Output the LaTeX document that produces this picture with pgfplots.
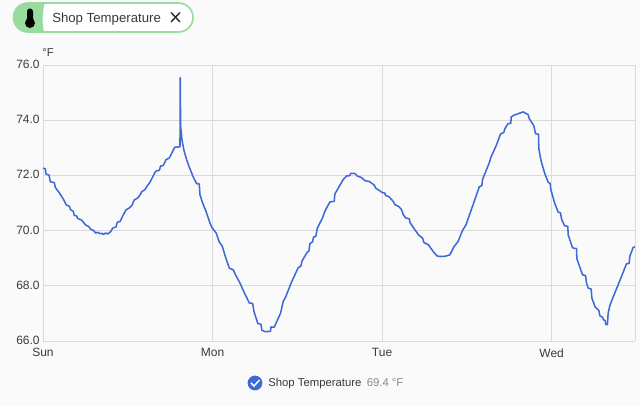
\documentclass[border=0pt]{standalone}
\usepackage{fontspec}
\setmainfont{Liberation Sans}
\usepackage{pgfplots}
\pgfplotsset{compat=1.18}
\definecolor{bgc}{HTML}{FAFAFA}
\definecolor{gridc}{HTML}{DADADA}
\definecolor{linec}{HTML}{4169D6}
\definecolor{chipg}{HTML}{97DB9F}
\definecolor{txt}{HTML}{3A3A3A}
\definecolor{gry}{HTML}{8A8A8A}
\begin{document}
\begin{tikzpicture}[x=0.75pt,y=0.75pt]
\fill[bgc] (0,0) rectangle (640,406);
\begin{axis}[
  at={(32.25pt,48.75pt)}, anchor=south west,
  scale only axis, width=444pt, height=207pt,
  xmin=0, xmax=83.8, ymin=66, ymax=76,
  xtick={0,24,48,72}, xticklabels={Sun,Mon,Tue,Wed},
  ytick={66,68,70,72,74,76},
  yticklabel style={/pgf/number format/fixed,/pgf/number format/fixed zerofill,/pgf/number format/precision=1,/pgf/number format/assume math mode=true},
  tick label style={font=\fontsize{9}{11}\selectfont,text=txt},
  xticklabel style={yshift=-2pt},
  yticklabel style={xshift=1pt,yshift=0.5pt},
  major tick length=3pt,
  tick style={gridc,line width=0.7pt},
  grid=major, grid style={gridc,line width=0.7pt},
  axis line style={gridc,line width=0.7pt},
  axis x line*=bottom, axis y line*=left,
  clip=false,
]
\addplot[linec,line width=1.15pt,line join=round] table {
0 72.26
0.33 72.24
0.42 72.05
0.85 72.01
1.04 71.77
1.6 71.74
1.75 71.56
2.31 71.37
2.88 71.14
3.3 70.93
3.73 70.88
3.92 70.75
4.29 70.70
4.43 70.55
4.76 70.53
4.91 70.44
5.47 70.38
6.04 70.20
6.46 70.15
6.75 70.05
7.17 70.0
7.45 69.91
7.74 69.94
8.07 69.89
8.35 69.90
8.54 69.86
8.87 69.91
9.15 69.88
9.58 69.96
9.86 70.09
10.33 70.13
10.52 70.30
10.94 70.34
11.27 70.52
11.75 70.75
12.22 70.82
12.6 70.92
12.92 71.11
13.4 71.18
13.73 71.29
14.01 71.42
14.43 71.48
14.67 71.59
15.14 71.75
15.85 72.11
16.09 72.17
16.46 72.18
16.65 72.34
17.03 72.36
17.41 72.57
17.83 72.62
18.11 72.74
18.63 73.02
19.2 73.03
19.39 73.03
19.43 75.54
19.48 73.78
19.67 73.29
19.95 72.91
20.33 72.57
20.71 72.30
21.27 71.94
21.75 71.70
22.12 71.69
22.22 71.30
22.6 71.0
23.07 70.70
23.63 70.28
23.96 70.09
24.53 69.91
24.91 69.61
25.38 69.43
25.8 69.07
26.37 68.64
26.93 68.58
27.17 68.44
27.88 68.10
28.35 67.83
29.2 67.38
29.67 67.36
29.86 67.07
30.42 66.63
30.85 66.61
30.99 66.39
31.41 66.34
32.21 66.35
32.26 66.51
32.73 66.50
33.63 67.01
34.01 67.44
34.34 67.59
35.09 68.08
36.13 68.66
36.51 68.71
36.65 68.89
37.4 69.22
37.64 69.25
37.78 69.53
38.16 69.59
38.3 69.77
38.63 69.79
38.82 70.08
39.57 70.46
39.9 70.70
40.61 71.04
41.22 71.06
41.32 71.33
41.93 71.60
42.5 71.85
42.97 71.98
43.44 71.99
43.54 72.07
44.15 72.07
44.48 71.98
45.09 71.92
45.56 71.81
46.18 71.78
46.89 71.65
47.12 71.53
47.59 71.46
48.06 71.37
48.4 71.36
48.49 71.27
48.96 71.23
49.57 71.06
49.81 70.94
50.38 70.87
50.75 70.76
50.99 70.58
51.32 70.46
51.84 70.43
51.98 70.28
52.64 70.03
53.21 69.83
53.73 69.73
53.91 69.57
54.53 69.49
54.76 69.41
55.3 69.22
55.8 69.08
56.18 69.06
56.89 69.07
57.6 69.12
58.16 69.41
58.77 69.61
59.39 70.01
59.86 70.20
60.43 70.61
61.13 71.12
61.75 71.58
62.12 71.63
62.22 71.85
63.16 72.45
63.4 72.65
64.2 73.11
64.77 73.5
65.24 73.56
65.38 73.69
65.8 73.87
66.23 73.89
66.27 74.12
66.65 74.18
67.97 74.30
68.68 74.2
68.82 74.06
69.48 73.8
69.72 73.51
70.14 73.49
70.19 72.96
70.52 72.51
71.04 72.06
71.51 71.75
71.79 71.71
71.89 71.48
72.45 70.98
72.93 70.67
73.26 70.64
73.4 70.42
73.82 70.18
74.29 70.15
74.34 69.85
74.91 69.41
75.1 69.36
75.52 69.35
75.57 68.98
76.37 68.40
76.8 68.37
76.94 68.10
77.17 67.92
77.6 67.88
77.69 67.56
78.16 67.23
78.68 67.11
78.82 66.92
79.2 66.86
79.34 66.77
79.58 66.74
79.67 66.59
79.9 66.59
80.0 67.01
80.24 67.28
80.61 67.53
81.42 68.04
82.6 68.80
82.97 68.81
83.07 69.07
83.54 69.39
83.8 69.41
};
\draw[gridc,line width=0.7pt] (rel axis cs:0,1) -- (rel axis cs:1,1) -- (rel axis cs:1,0);
\end{axis}
% y unit
\node[anchor=base west,inner sep=0pt,text=txt,font=\fontsize{8.5}{10}\selectfont] at (42,349.5) {°F};
% chip
\draw[chipg,line width=1.2pt,fill=white,rounded corners=10.8pt] (13.5,374) rectangle (193,403);
\begin{scope}
\clip[rounded corners=10.8pt] (13.5,374) rectangle (193,403);
\fill[chipg] (13,373) -- (44,373) .. controls (42,385) and (42,392) .. (45,404) -- (13,404) -- cycle;
\end{scope}
% thermometer icon
\fill[black] (30,383) circle[radius=5];
\fill[black,rounded corners=2.2pt] (27,383) rectangle (33,397.5);
\node[anchor=base west,inner sep=0pt,text=txt,font=\fontsize{9.9}{11}\selectfont] at (52,383.5) {Shop Temperature};
\draw[black!85,line width=1pt] (171,384) -- (180,393.5) (171,393.5) -- (180,384);
% legend
\fill[linec] (255,23) circle[radius=7.4];
\draw[white,line width=1.1pt] (251,23) -- (254,20) -- (259.5,26);
\node[anchor=base west,inner sep=0pt,text=txt,font=\fontsize{8.5}{10}\selectfont] at (268,19.5) {Shop Temperature};
\node[anchor=base west,inner sep=0pt,text=gry,font=\fontsize{8.5}{10}\selectfont] at (366.5,19.5) {69.4 °F};
\useasboundingbox (0,0) rectangle (640,406);
\end{tikzpicture}
\end{document}
